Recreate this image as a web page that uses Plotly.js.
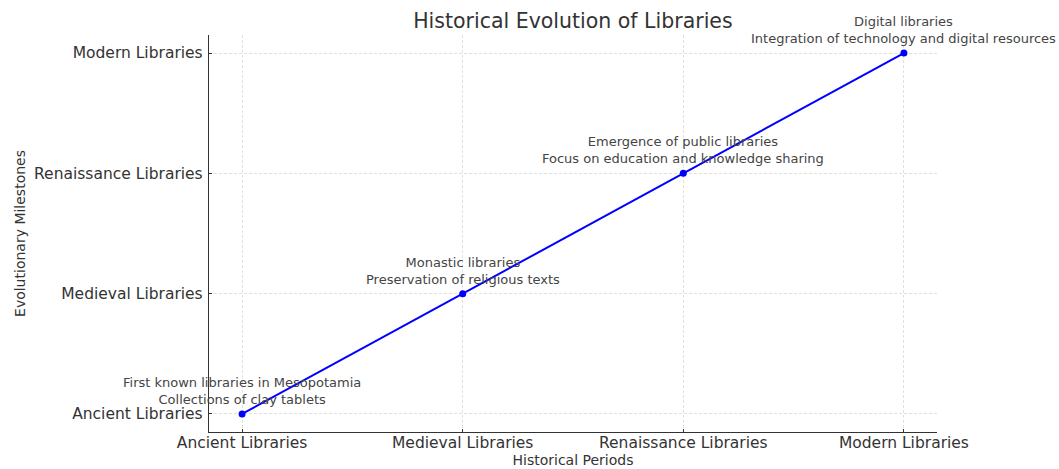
<!DOCTYPE html>
<html>
<head>
<meta charset="utf-8">
<script src="https://cdn.plot.ly/plotly-3.0.1.min.js"></script>
<style>html,body{margin:0;padding:0;background:#fff;}#chart{width:1059px;height:469px;}</style>
</head>
<body>
<div id="chart"></div>
<script>
const periods = ["Ancient Libraries", "Medieval Libraries", "Renaissance Libraries", "Modern Libraries"];
const milestones = ["Ancient Libraries", "Medieval Libraries", "Renaissance Libraries", "Modern Libraries"];
const notes = [
  "First known libraries in Mesopotamia<br>Collections of clay tablets",
  "Monastic libraries<br>Preservation of religious texts",
  "Emergence of public libraries<br>Focus on education and knowledge sharing",
  "Digital libraries<br>Integration of technology and digital resources"
];

const font = "DejaVu Sans, sans-serif";
const trace = {
  x: periods, y: milestones, type: "scatter", mode: "lines+markers",
  line: {color: "#0000ff", width: 2},
  marker: {color: "#0000ff", size: 7},
  hoverinfo: "skip"
};
const annotations = periods.map((p, i) => ({
  x: p, y: milestones[i], xref: "x", yref: "y", text: notes[i],
  showarrow: false, xanchor: "center", yanchor: "bottom", yshift: 5,
  font: {family: font, size: 13, color: "#444"}, align: "center"
}));
const gridStyle = {showgrid: true, gridcolor: "#e0e0e0", griddash: "3px,2px", gridwidth: 1,
  showline: true, linecolor: "#333", linewidth: 1.2, zeroline: false,
  ticks: "inside", ticklen: 3, tickcolor: "#333"};
const layout = {
  width: 1059, height: 469,
  margin: {l: 209, r: 122, t: 35, b: 37},
  paper_bgcolor: "#fff", plot_bgcolor: "#fff",
  showlegend: false,
  title: {text: "Historical Evolution of Libraries", x: 0.541, xanchor: "center", y: 0.955, yanchor: "middle",
          font: {family: font, size: 20.5, color: "#333"}},
  xaxis: Object.assign({type: "category", categoryarray: periods, range: [-0.15, 3.15],
          tickfont: {family: font, size: 15.5, color: "#333"}, ticklabelstandoff: -4,
          title: {text: "Historical Periods", font: {family: font, size: 14, color: "#333"}, standoff: 2}}, gridStyle),
  yaxis: Object.assign({type: "category", categoryarray: milestones, range: [-0.15, 3.15],
          tickfont: {family: font, size: 15.5, color: "#333"}, ticklabelstandoff: 2,
          title: {text: "Evolutionary Milestones", font: {family: font, size: 14, color: "#333"}, standoff: 5}}, gridStyle),
  annotations: annotations
};
Plotly.newPlot("chart", [trace], layout, {displayModeBar: false, staticPlot: true});
</script>
</body>
</html>
